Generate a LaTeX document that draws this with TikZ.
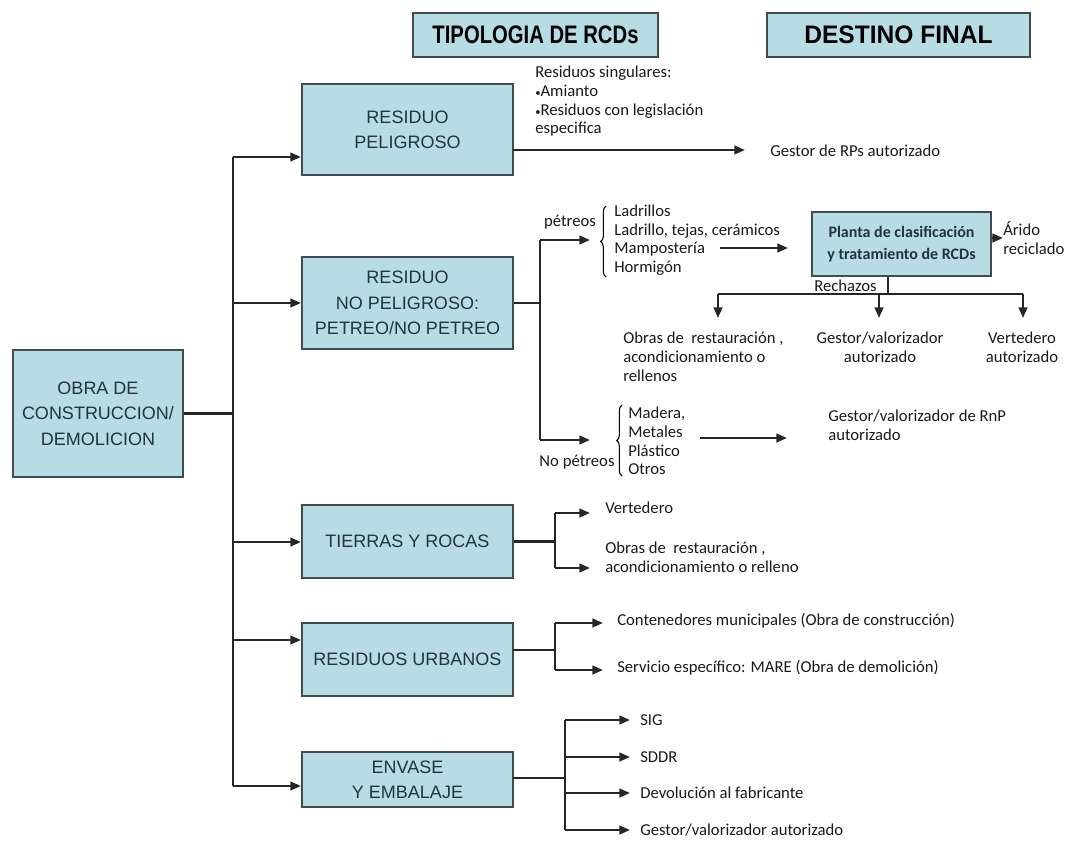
\documentclass[tikz,border=0pt]{standalone}
\usepackage{fontspec}
\usepackage{graphicx}
\setmainfont{Liberation Sans}
\newfontfamily\textofont{Carlito}
\usetikzlibrary{positioning,arrows.meta,decorations.pathreplacing}

\definecolor{cajafondo}{HTML}{B7DCE4}
\definecolor{cajaborde}{HTML}{3F4D52}
\definecolor{cajatexto}{HTML}{22353B}

\tikzset{
  caja/.style={draw=cajaborde, fill=cajafondo, line width=1.6pt, align=center,
    text=cajatexto, inner sep=0pt, font=\fontsize{13.5}{19}\selectfont},
  titulo/.style={caja, minimum height=33pt, font=\bfseries\fontsize{19}{21}\selectfont, text=black},
  tipo/.style={caja, minimum width=158.25pt},
  texto/.style={inner sep=0pt, align=left, text=black!90, font=\textofont\fontsize{12.5}{14}\selectfont},
  linea/.style={line width=1.7pt, draw=black!85},
  flecha/.style={linea, -{Triangle[length=8pt,width=6.5pt]}},
  llave/.style={line width=0.8pt, decorate, decoration={brace, amplitude=4pt}}
}

\begin{document}
\begin{tikzpicture}[x=0.75pt, y=-0.75pt]

    % Fix the size of the picture
    \useasboundingbox (0,0) rectangle (1071,846);

    % Headers
    \node[titulo, minimum width=183.75pt] (tipologia) at (535.5,35) {\scalebox{0.8}[1]{TIPOLOGIA DE RCDs}};
    \node[titulo, minimum width=197.25pt] (destino) at (898.5,35) {\scalebox{0.97}[1]{DESTINO FINAL}};

    % Main boxes
    \node[caja, minimum width=127.5pt, minimum height=95.25pt] (obra) at (98,413.5) {OBRA DE\\CONSTRUCCION/\\DEMOLICION};
    \node[tipo, minimum height=68.25pt] (peligroso) at (407.5,129.5) {RESIDUO\\PELIGROSO};
    \node[tipo, minimum height=69pt] (nopeligroso) at (407.5,303) {RESIDUO\\NO PELIGROSO:\\PETREO/NO PETREO};
    \node[tipo, minimum height=54.75pt] (tierras) at (407.5,541.5) {TIERRAS Y ROCAS};
    \node[tipo, minimum height=54.75pt] (urbanos) at (407.5,659.5) {RESIDUOS URBANOS};
    \node[tipo, minimum height=41.25pt] (envase) at (407.5,779.5) {ENVASE\\Y EMBALAJE};

    % Trunk coordinates
    \coordinate (t1) at (233,157);
    \coordinate (t2) at (233,303);
    \coordinate (t3) at (233,542);
    \coordinate (t4) at (233,640);
    \coordinate (t5) at (233,786);

    % Trunk and branches
    \draw[linea] (obra.east) -- (obra.east -| t1);
    \draw[linea] (t1) -- (t5);
    \draw[flecha] (t1) -- (t1 -| peligroso.west);
    \draw[flecha] (t2) -- (t2 -| nopeligroso.west);
    \draw[flecha] (t3) -- (t3 -| tierras.west);
    \draw[flecha] (t4) -- (t4 -| urbanos.west);
    \draw[flecha] (t5) -- (t5 -| envase.west);

    % Residuo peligroso
    \node[texto, anchor=north west] (singulares) at (535,66) {Residuos singulares:\\{\footnotesize\textbullet}Amianto\\{\footnotesize\textbullet}Residuos con legislación\\especifica};
    \node[texto, anchor=west] (gestorRP) at (770,151) {Gestor de RPs autorizado};
    \coordinate (p1) at (513,150);
    \coordinate (p2) at (745,150);
    \draw[flecha] (p1) -- (p2);

    % Residuo no peligroso
    \coordinate (n1) at (540,240);
    \coordinate (n2) at (540,440);
    \draw[linea] (nopeligroso.east) -- (nopeligroso.east -| n1);
    \draw[linea] (n1) -- (n2);
    \draw[flecha] (n1) -- ++(50,0);
    \draw[flecha] (n2) -- ++(50,0);
    \node[texto] (petreos) at (570,222) {pétreos};
    \node[texto] (nopetreos) at (577,462) {No pétreos};

    % Petreos
    \draw[llave] (606,277) -- (606,206);
    \node[texto, anchor=west] (listapetreos) at (614,240) {Ladrillos\\Ladrillo, tejas, cerámicos\\Mampostería\\Hormigón};
    \draw[flecha] (720,248) -- (788,248);
    \node[caja, minimum width=134.25pt, minimum height=48pt, font=\textofont\bfseries\fontsize{12}{16}\selectfont] (planta) at (901.5,244) {Planta de clasificación\\y tratamiento de RCDs};
    \node[texto, anchor=west] (arido) at (1003,238) {Árido\\reciclado};
    \draw[flecha] (planta.east |- arido.west) -- (arido.west);

    % Rechazos
    \coordinate (r0) at (888,294);
    \coordinate (r1) at (718,294);
    \coordinate (r2) at (879,294);
    \coordinate (r3) at (1023,294);
    \draw[linea] (planta.south -| r0) -- (r0);
    \draw[linea] (r1) -- (r3);
    \draw[flecha] (r1) -- ++(0,24);
    \draw[flecha] (r2) -- ++(0,24);
    \draw[flecha] (r3) -- ++(0,24);
    \node[texto, anchor=base east] (rechazos) at (877,291) {Rechazos};
    \node[texto, anchor=north west] (obras1) at (623,332) {Obras de\ \ restauración ,\\acondicionamiento o\\rellenos};
    \node[texto, anchor=north, align=center] (gestor1) at (880,332) {Gestor/valorizador\\autorizado};
    \node[texto, anchor=north, align=center] (vertedero1) at (1022,332) {Vertedero\\autorizado};

    % No petreos
    \draw[llave] (622,476) -- (622,405);
    \node[texto, anchor=west] (listanopetreos) at (628,441) {Madera,\\Metales\\Plástico\\Otros};
    \draw[flecha] (700,438) -- (787,438);
    \node[texto, anchor=north west] (gestorRnP) at (828,410) {Gestor/valorizador de RnP\\autorizado};

    % Tierras y rocas
    \coordinate (s1) at (555,513);
    \coordinate (s2) at (555,568);
    \draw[linea] (tierras.east) -- (tierras.east -| s1);
    \draw[linea] (s1) -- (s2);
    \draw[flecha] (s1) -- ++(35,0);
    \draw[flecha] (s2) -- ++(35,0);
    \node[texto, anchor=west] (vertedero2) at (605,508) {Vertedero};
    \node[texto, anchor=west] (obras2) at (605,557) {Obras de\ \ restauración ,\\acondicionamiento o relleno};

    % Residuos urbanos
    \coordinate (u0) at (513,650);
    \coordinate (u1) at (555,623);
    \coordinate (u2) at (555,670);
    \draw[linea] (u0) -- (u0 -| u1);
    \draw[linea] (u1) -- (u2);
    \draw[flecha] (u1) -- ++(48,0);
    \draw[flecha] (u2) -- ++(48,0);
    \node[texto, anchor=west] (contenedores) at (617,621) {Contenedores municipales (Obra de construcción)};
    \node[texto, anchor=west] (servicio) at (617,668) {Servicio específico: MARE (Obra de demolición)};

    % Envase y embalaje
    \coordinate (e0) at (513,778);
    \coordinate (e1) at (565,720);
    \coordinate (e2) at (565,757);
    \coordinate (e3) at (565,793);
    \coordinate (e4) at (565,830);
    \draw[linea] (e0) -- (e0 -| e1);
    \draw[linea] (e1) -- (e4);
    \draw[flecha] (e1) -- ++(65,0);
    \draw[flecha] (e2) -- ++(65,0);
    \draw[flecha] (e3) -- ++(65,0);
    \draw[flecha] (e4) -- ++(65,0);
    \node[texto, anchor=west] (sig) at (640,720) {SIG};
    \node[texto, anchor=west] (sddr) at (640,757) {SDDR};
    \node[texto, anchor=west] (devolucion) at (640,793) {Devolución al fabricante};
    \node[texto, anchor=west] (gestor2) at (640,830) {Gestor/valorizador autorizado};

\end{tikzpicture}
\end{document}
